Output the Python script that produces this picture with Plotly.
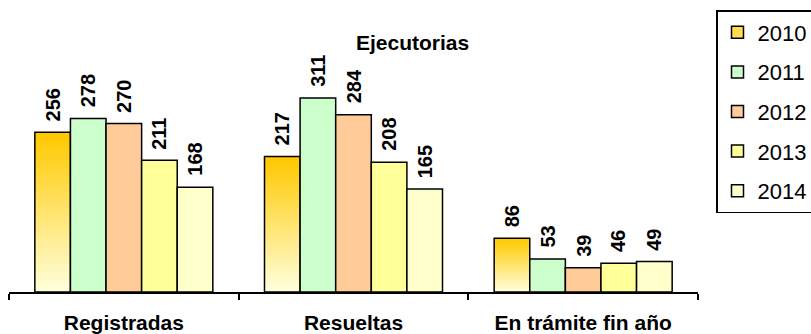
import plotly.graph_objects as go

categories = ["Registradas", "Resueltas", "En trámite fin año"]
years = ["2010", "2011", "2012", "2013", "2014"]
v2010 = [256, 217, 86]
v2011 = [278, 311, 53]
v2012 = [270, 284, 39]
v2013 = [211, 208, 46]
v2014 = [168, 165, 49]
series = [v2010, v2011, v2012, v2013, v2014]
title_text = "Ejecutorias"

fills = [None, "#CCFFCC", "#FFCC99", "#FFFF99", "#FFFFCC"]
grad_top = (255, 200, 0)
grad_bottom = (255, 255, 218)
FONT = "Liberation Sans, Arial, sans-serif"
BARGAP = 0.225
LINE = dict(color="#000000", width=1.5)

fig = go.Figure()

# gradient series 2010: overlapping bars from base 0, darkest (tallest) first
N = 40
for k in range(N):
    t = k / (N - 1)
    c = tuple(round(grad_top[i] + (grad_bottom[i] - grad_top[i]) * t) for i in range(3))
    fig.add_trace(go.Bar(
        x=categories, y=[v * (N - k) / N for v in v2010],
        marker=dict(color="rgb(%d,%d,%d)" % c, line=dict(width=0)),
        offsetgroup="2010", legendgroup="2010", showlegend=False, hoverinfo="skip"))
# outline for 2010
fig.add_trace(go.Bar(x=categories, y=v2010, marker=dict(color="rgba(0,0,0,0)", line=LINE),
                     offsetgroup="2010", legendgroup="2010", showlegend=False))
# legend entry for 2010
fig.add_trace(go.Bar(x=categories, y=[None] * len(categories), name=years[0],
                     marker=dict(color="#FFDD55", line=LINE),
                     offsetgroup="2010", legendgroup="2010", legendrank=1))

for j in range(1, len(years)):
    fig.add_trace(go.Bar(x=categories, y=series[j], name=years[j],
                         marker=dict(color=fills[j], line=LINE),
                         offsetgroup=years[j], legendgroup=years[j], legendrank=j + 1))

# data labels
gw = 1 - BARGAP
bw = gw / len(years)
for j, vals in enumerate(series):
    for i, v in enumerate(vals):
        fig.add_annotation(x=i - gw / 2 + bw * (j + 0.5), y=v, xref="x", yref="y",
                           text=str(v), textangle=-90, showarrow=False,
                           yanchor="bottom", xanchor="center", yshift=9,
                           font=dict(family=FONT, size=20, color="#000000", weight="bold"))

fig.add_annotation(x=(413 - 9) / 689, y=(292 - 42) / 282, xref="paper", yref="paper",
                   text=title_text, showarrow=False, xanchor="center", yanchor="middle",
                   font=dict(family=FONT, size=21, color="#000000", weight="bold"))

fig.update_layout(
    width=811, height=334,
    margin=dict(l=9, r=113, t=10, b=42, autoexpand=False),
    paper_bgcolor="white", plot_bgcolor="white",
    barmode="group", bargap=BARGAP, bargroupgap=0,
    showlegend=True,
    legend=dict(x=(716 - 9) / 689, y=1, xanchor="left", yanchor="top",
                bordercolor="#000000", borderwidth=1.5, bgcolor="white",
                font=dict(family=FONT, size=22, color="#000000"),
                traceorder="grouped", tracegroupgap=8),
    xaxis=dict(type="category", range=[-0.5, len(categories) - 0.5],
               showline=True, linecolor="#000000", linewidth=1.5,
               ticks="outside", tickson="boundaries", ticklen=6, tickwidth=1.5, tickcolor="#000000",
               showgrid=False, zeroline=False, ticklabelstandoff=11,
               tickfont=dict(family=FONT, size=21, color="#000000", weight="bold")),
    yaxis=dict(range=[0, 452], visible=False, showgrid=False, zeroline=False),
)

fig.write_html("out.html", config={"displayModeBar": False},
               post_script="document.body.style.margin='0';document.body.style.overflow='hidden';")
